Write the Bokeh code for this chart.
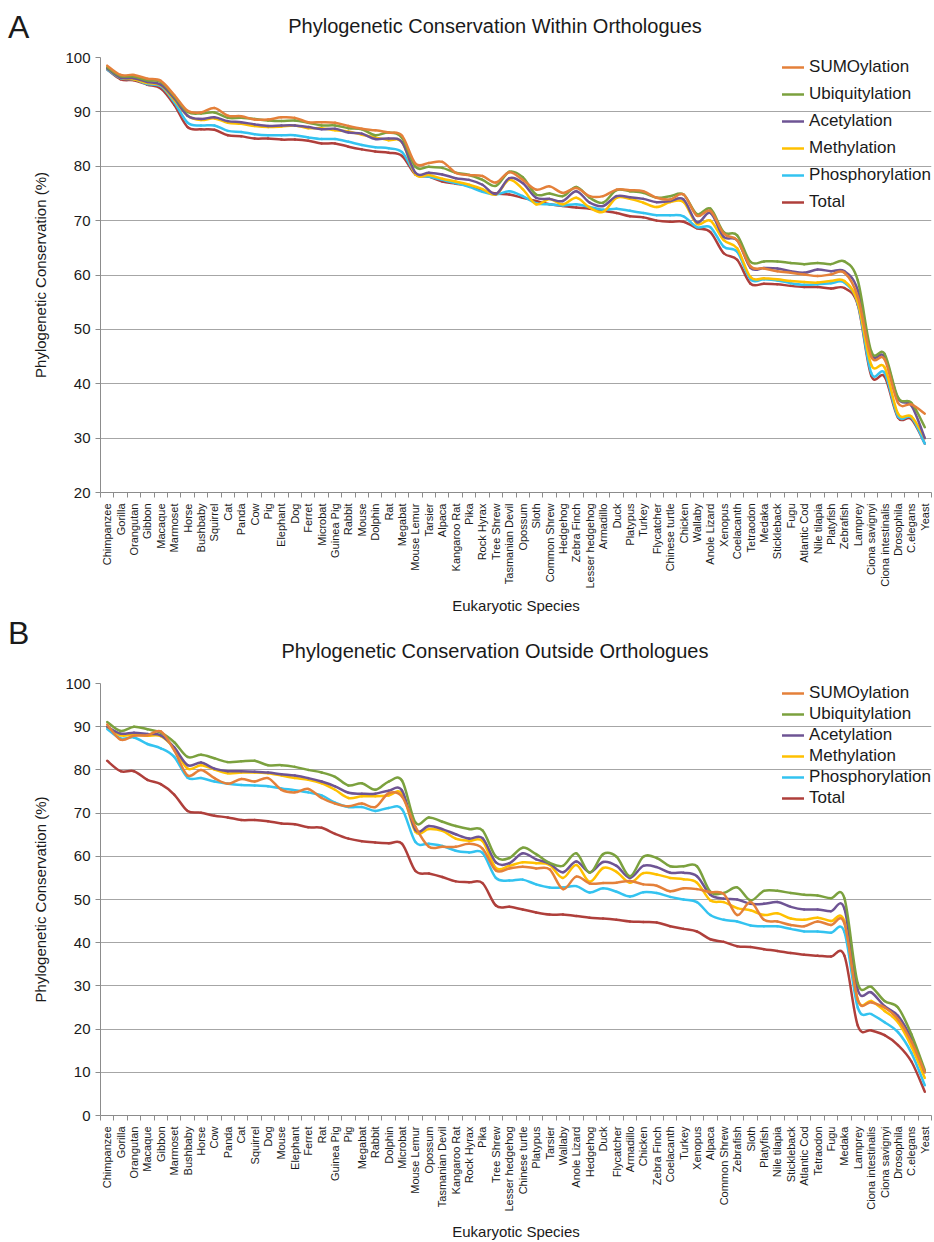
import math
import numpy as np
from bokeh.plotting import figure
from bokeh.models import Range1d, FixedTicker, Legend, LegendItem, ColumnDataSource, Div
from bokeh.layouts import column
from bokeh.embed import file_html
from bokeh.resources import INLINE

FONT = "Liberation Sans"

series_names = ["SUMOylation", "Ubiquitylation", "Acetylation", "Methylation", "Phosphorylation", "Total"]
series_colors = ["#E4803A", "#7BA13E", "#6E5494", "#FFC000", "#33C3F0", "#AF3F3B"]

# ---------------- Panel A: within orthologues ----------------
species_a = ["Chimpanzee", "Gorilla", "Orangutan", "Gibbon", "Macaque", "Marmoset", "Horse", "Bushbaby",
             "Squirrel", "Cat", "Panda", "Cow", "Pig", "Elephant", "Dog", "Ferret", "Microbat", "Guinea Pig",
             "Rabbit", "Mouse", "Dolphin", "Rat", "Megabat", "Mouse Lemur", "Tarsier", "Alpaca", "Kangaroo Rat",
             "Pika", "Rock Hyrax", "Tree Shrew", "Tasmanian Devil", "Opossum", "Sloth", "Common Shrew",
             "Hedgehog", "Zebra Finch", "Lesser hedgehog", "Armadillo", "Duck", "Platypus", "Turkey",
             "Flycatcher", "Chinese turtle", "Chicken", "Wallaby", "Anole Lizard", "Xenopus", "Coelacanth",
             "Tetraodon", "Medaka", "Stickleback", "Fugu", "Atlantic Cod", "Nile tilapia", "Platyfish",
             "Zebrafish", "Lamprey", "Ciona savignyi", "Ciona intestinalis", "Drosophila", "C.elegans", "Yeast"]

sumo_a = [98.5, 96.8, 96.8, 96.1, 95.7, 93.1, 90.2, 89.9, 90.7, 89.3, 89.2, 88.6, 88.6, 89.0, 88.9, 88.1,
          88.1, 88.0, 87.4, 86.9, 86.6, 86.2, 85.6, 80.5, 80.6, 80.8, 78.8, 78.4, 78.2, 77.0, 78.9, 77.5,
          75.7, 76.3, 75.1, 76.0, 74.5, 74.5, 75.7, 75.6, 75.4, 74.2, 73.9, 74.8, 70.9, 71.8, 67.6, 66.4,
          61.6, 61.2, 60.7, 60.4, 60.1, 59.8, 60.1, 60.4, 56.0, 45.0, 44.5, 36.5, 36.2, 34.5]
ubiq_a = [98.2, 96.6, 96.5, 95.8, 95.5, 92.9, 90.0, 89.7, 89.9, 88.9, 88.9, 88.7, 88.4, 88.3, 88.4, 88.0,
          87.5, 87.5, 87.0, 86.8, 85.7, 86.2, 85.2, 79.9, 79.9, 79.7, 78.8, 78.4, 77.5, 76.4, 79.0, 78.0,
          74.8, 75.0, 74.5, 76.2, 74.2, 73.3, 75.6, 75.4, 75.1, 74.2, 74.5, 74.8, 71.2, 72.2, 67.9, 67.3,
          62.4, 62.5, 62.5, 62.2, 62.0, 62.2, 62.0, 62.5, 59.0, 46.0, 45.5, 37.5, 36.5, 32.0]
acet_a = [98.0, 96.3, 96.2, 95.5, 95.0, 92.5, 89.3, 88.7, 89.0, 88.3, 88.1, 87.7, 87.4, 87.5, 87.5, 87.2,
          86.8, 86.9, 86.2, 86.0, 85.0, 85.1, 84.4, 78.8, 78.8, 78.5, 77.8, 77.5, 76.6, 74.9, 77.8, 76.9,
          74.2, 74.0, 73.6, 75.4, 73.3, 72.7, 74.5, 74.3, 74.0, 73.4, 73.6, 73.9, 69.7, 71.4, 67.0, 66.4,
          61.3, 61.3, 61.2, 60.7, 60.4, 61.0, 60.7, 60.7, 57.2, 45.5, 45.0, 37.3, 36.0, 30.0]
meth_a = [98.0, 96.3, 96.0, 95.3, 94.9, 92.2, 89.3, 88.5, 88.8, 88.0, 87.8, 87.4, 87.2, 87.3, 87.5, 87.0,
          87.0, 86.6, 86.4, 85.8, 85.3, 84.8, 84.4, 78.5, 78.4, 77.7, 77.2, 76.6, 75.8, 74.8, 77.5, 75.8,
          73.0, 74.0, 73.0, 74.2, 72.4, 71.6, 74.2, 74.0, 73.3, 72.5, 73.4, 73.4, 69.4, 70.0, 66.4, 64.9,
          59.6, 59.4, 59.2, 58.9, 58.7, 58.6, 58.9, 58.9, 55.0, 43.5, 43.0, 34.5, 34.0, 30.0]
phos_a = [97.8, 96.2, 96.0, 95.1, 94.7, 91.8, 88.0, 87.5, 87.5, 86.5, 86.3, 85.9, 85.7, 85.7, 85.7, 85.3,
          85.0, 85.0, 84.5, 83.9, 83.5, 83.3, 82.6, 78.7, 78.1, 77.5, 76.9, 76.2, 75.3, 74.8, 75.4, 74.5,
          73.2, 73.0, 72.8, 73.0, 72.5, 72.0, 72.2, 71.8, 71.4, 71.0, 71.0, 70.8, 68.8, 68.8, 65.2, 64.3,
          59.2, 59.2, 59.0, 58.5, 58.2, 58.3, 58.5, 58.6, 54.8, 42.0, 42.0, 34.0, 33.8, 29.0]
total_a = [97.8, 96.0, 95.8, 95.0, 94.3, 91.3, 87.2, 86.8, 86.7, 85.7, 85.5, 85.1, 85.1, 84.9, 84.9, 84.7,
           84.2, 84.2, 83.6, 83.1, 82.7, 82.5, 81.9, 78.5, 78.1, 77.2, 76.8, 76.4, 75.5, 75.0, 74.8, 74.2,
           73.6, 73.0, 72.7, 72.4, 72.2, 71.8, 71.4, 70.8, 70.6, 70.0, 69.8, 69.8, 68.6, 67.9, 64.0, 62.8,
           58.4, 58.4, 58.3, 58.0, 57.8, 57.8, 57.5, 57.6, 54.5, 41.5, 41.3, 33.8, 33.5, 29.0]

yticks_a = [20, 30, 40, 50, 60, 70, 80, 90, 100]

# ---------------- Panel B: outside orthologues ----------------
species_b = ["Chimpanzee", "Gorilla", "Orangutan", "Macaque", "Gibbon", "Marmoset", "Bushbaby", "Horse",
             "Cow", "Panda", "Cat", "Squirrel", "Dog", "Mouse", "Elephant", "Ferret", "Rat", "Guinea Pig",
             "Pig", "Megabat", "Rabbit", "Dolphin", "Microbat", "Mouse Lemur", "Opossum", "Tasmanian Devil",
             "Kangaroo Rat", "Rock Hyrax", "Pika", "Tree Shrew", "Lesser hedgehog", "Chinese turtle",
             "Platypus", "Tarsier", "Wallaby", "Anole Lizard", "Hedgehog", "Duck", "Flycatcher", "Armadillo",
             "Chicken", "Zebra Finch", "Coelacanth", "Turkey", "Xenopus", "Alpaca", "Common Shrew",
             "Zebrafish", "Sloth", "Platyfish", "Nile tilapia", "Stickleback", "Atlantic Cod", "Tetraodon",
             "Fugu", "Medaka", "Lamprey", "Ciona intestinalis", "Ciona savignyi", "Drosophila", "C.elegans",
             "Yeast"]

sumo_b = [90.5, 87.0, 87.9, 88.0, 88.9, 84.5, 78.7, 80.0, 78.1, 76.8, 77.9, 77.3, 78.1, 75.4, 74.8, 75.6,
          73.5, 72.2, 71.6, 72.2, 71.4, 74.6, 73.8, 66.8, 62.2, 62.2, 62.2, 62.9, 61.8, 56.7, 57.2, 57.6,
          57.2, 57.0, 52.4, 55.3, 53.7, 53.8, 53.9, 54.3, 53.5, 53.2, 51.9, 52.6, 52.4, 51.7, 51.3, 46.4,
          49.4, 45.3, 44.9, 44.1, 43.8, 44.9, 44.1, 44.5, 26.8, 26.2, 25.0, 22.3, 17.1, 10.0]
ubiq_b = [91.1, 89.0, 90.0, 89.4, 88.6, 86.4, 83.0, 83.5, 82.7, 81.8, 82.0, 82.1, 81.1, 81.1, 80.7, 80.0,
          79.4, 78.4, 76.4, 76.9, 75.4, 77.3, 77.5, 67.8, 69.0, 68.0, 67.0, 66.3, 66.0, 59.9, 59.6, 62.0,
          60.5, 58.5, 57.8, 60.7, 56.2, 60.5, 59.9, 55.4, 59.9, 59.6, 57.7, 57.7, 57.7, 51.8, 51.5, 52.8,
          49.8, 52.0, 52.0, 51.5, 51.1, 50.9, 50.3, 50.3, 30.6, 29.8, 26.5, 25.0, 18.8, 10.5]
acet_b = [90.0, 88.4, 88.6, 88.3, 88.0, 85.2, 81.1, 81.7, 80.3, 79.7, 79.7, 79.6, 79.4, 79.0, 78.7, 78.1,
          77.3, 76.2, 74.7, 74.5, 74.5, 75.2, 75.2, 66.1, 67.0, 66.3, 65.1, 64.1, 64.2, 58.6, 58.4, 60.7,
          59.3, 58.3, 56.3, 58.8, 56.3, 58.7, 57.8, 55.0, 57.8, 57.5, 56.2, 56.2, 55.4, 51.1, 50.2, 50.0,
          49.0, 49.0, 49.4, 48.3, 47.7, 47.7, 47.3, 47.9, 29.1, 28.5, 25.3, 23.1, 17.8, 10.0]
meth_b = [90.0, 88.0, 88.2, 87.9, 87.8, 85.0, 80.3, 81.1, 80.1, 79.2, 79.4, 79.4, 79.2, 78.7, 78.1, 77.7,
          76.9, 75.4, 73.5, 73.9, 73.9, 74.1, 74.5, 65.7, 66.3, 65.9, 64.1, 63.6, 63.5, 57.3, 57.8, 58.6,
          58.4, 58.0, 55.0, 58.0, 54.1, 57.3, 56.4, 53.9, 56.1, 55.8, 55.0, 54.7, 53.9, 49.8, 49.4, 48.0,
          47.5, 46.4, 46.8, 45.6, 45.3, 45.8, 45.0, 45.0, 26.8, 26.5, 24.2, 21.6, 16.0, 8.7]
phos_b = [89.5, 87.3, 87.5, 86.0, 85.0, 83.0, 78.2, 78.1, 77.3, 76.8, 76.5, 76.4, 76.2, 75.7, 75.3, 74.8,
          74.1, 72.4, 71.4, 71.4, 70.5, 71.2, 70.9, 63.3, 62.9, 62.4, 61.3, 60.9, 60.8, 55.0, 54.4, 54.6,
          53.5, 52.8, 52.8, 53.1, 51.6, 52.6, 51.8, 50.7, 51.7, 51.5, 50.6, 50.0, 49.4, 46.4, 45.3, 44.9,
          44.0, 43.8, 43.8, 43.2, 42.6, 42.6, 42.3, 42.5, 25.0, 23.5, 21.6, 19.3, 14.5, 7.0]
total_b = [82.1, 79.7, 79.7, 77.7, 76.7, 74.3, 70.5, 70.1, 69.4, 69.0, 68.4, 68.4, 68.1, 67.6, 67.4, 66.7,
           66.6, 65.2, 64.1, 63.5, 63.2, 63.0, 62.9, 56.6, 56.0, 55.2, 54.2, 54.0, 53.8, 48.6, 48.3, 47.7,
           47.0, 46.5, 46.5, 46.2, 45.8, 45.6, 45.3, 44.9, 44.8, 44.7, 43.8, 43.2, 42.6, 40.8, 40.2, 39.2,
           39.0, 38.5, 38.1, 37.6, 37.2, 37.0, 36.8, 37.0, 20.8, 19.7, 18.6, 16.3, 12.5, 5.5]

yticks_b = [0, 10, 20, 30, 40, 50, 60, 70, 80, 90, 100]


def smooth_segments(ys):
    """Cubic Bezier segments through the data points (spreadsheet-style smoothed line)."""
    y = np.asarray(ys, dtype=float)
    x = np.arange(len(y), dtype=float)
    xp = np.r_[x[0], x, x[-1]]
    yp = np.r_[y[0], y, y[-1]]
    i = np.arange(len(y) - 1)
    p0x, p1x, p2x, p3x = xp[i], xp[i + 1], xp[i + 2], xp[i + 3]
    p0y, p1y, p2y, p3y = yp[i], yp[i + 1], yp[i + 2], yp[i + 3]
    return dict(x0=p1x, y0=p1y, x1=p2x, y1=p2y,
                cx0=p1x + (p2x - p0x) / 6.0, cy0=p1y + (p2y - p0y) / 6.0,
                cx1=p2x - (p3x - p1x) / 6.0, cy1=p2y - (p3y - p1y) / 6.0)


def make_header(height, title, letter, title_top, letter_top):
    """Strip above each panel with the panel letter and the chart title."""
    html = (
        f'<div style="position:relative;width:934px;height:{height}px;font-family:\'{FONT}\';'
        f'color:#1a1a1a;background:white;overflow:visible;">'
        f'<span style="position:absolute;left:8px;top:{letter_top}px;font-size:32px;line-height:32px;'
        f'white-space:nowrap;">{letter}</span>'
        f'<span style="position:absolute;left:0px;width:990px;top:{title_top}px;font-size:20px;'
        f'line-height:20px;text-align:center;white-space:nowrap;">{title}</span>'
        f'</div>'
    )
    return Div(text=html, width=934, height=height, margin=0,
               styles={"padding": "0px", "margin": "0px", "overflow": "visible"})


def make_panel(species, data, yticks, height, top, frame_h, legend_padding, legend_spacing, xlabel_standoff):
    n = len(species)
    bottom = height - top - frame_h
    p = figure(width=934, height=height, x_range=Range1d(-0.5, n - 0.5),
               y_range=Range1d(yticks[0], yticks[-1]),
               output_backend="svg", toolbar_location=None,
               min_border_left=100, min_border_right=3, min_border_top=top, min_border_bottom=bottom)
    p.outline_line_color = None
    p.background_fill_color = "white"
    p.border_fill_color = "white"

    p.xgrid.grid_line_color = None
    p.ygrid.grid_line_color = "#A6A6A6"
    p.ygrid.grid_line_width = 1

    p.yaxis.ticker = FixedTicker(ticks=yticks)
    p.yaxis.axis_line_color = "#8C8C8C"
    p.yaxis.major_tick_line_color = "#8C8C8C"
    p.yaxis.major_tick_in = 0
    p.yaxis.major_tick_out = 5
    p.yaxis.minor_tick_line_color = None
    p.yaxis.major_label_text_font = FONT
    p.yaxis.major_label_text_font_size = "15px"
    p.yaxis.major_label_text_color = "#1a1a1a"
    p.yaxis.major_label_standoff = 5
    p.yaxis.axis_label = "Phylogenetic Conservation (%)"
    p.yaxis.axis_label_text_font = FONT
    p.yaxis.axis_label_text_font_size = "15px"
    p.yaxis.axis_label_text_font_style = "normal"
    p.yaxis.axis_label_text_color = "#1a1a1a"
    p.yaxis.axis_label_standoff = 13

    centres = list(range(n))
    bounds = [i - 0.5 for i in range(n + 1)]
    p.xaxis.ticker = FixedTicker(ticks=centres, minor_ticks=bounds)
    p.xaxis.major_label_overrides = {i: s for i, s in enumerate(species)}
    p.xaxis.major_label_orientation = math.pi / 2
    p.xaxis.major_label_text_font = FONT
    p.xaxis.major_label_text_font_size = "11px"
    p.xaxis.major_label_text_color = "#1a1a1a"
    p.xaxis.major_label_standoff = 6
    p.xaxis.major_tick_line_color = None
    p.xaxis.major_tick_in = 0
    p.xaxis.major_tick_out = 0
    p.xaxis.minor_tick_line_color = "#8C8C8C"
    p.xaxis.minor_tick_in = 0
    p.xaxis.minor_tick_out = 5
    p.xaxis.axis_line_color = "#8C8C8C"
    p.xaxis.axis_label = "Eukaryotic Species"
    p.xaxis.axis_label_text_font = FONT
    p.xaxis.axis_label_text_font_size = "15px"
    p.xaxis.axis_label_text_font_style = "normal"
    p.xaxis.axis_label_text_color = "#1a1a1a"
    p.xaxis.axis_label_standoff = xlabel_standoff

    renderers = {}
    for name, color, ys in reversed(list(zip(series_names, series_colors, data))):
        src = ColumnDataSource(smooth_segments(ys))
        r = p.bezier(x0="x0", y0="y0", x1="x1", y1="y1", cx0="cx0", cy0="cy0", cx1="cx1", cy1="cy1",
                     source=src, line_color=color, line_width=2.5, line_cap="round")
        renderers[name] = r

    legend = Legend(items=[LegendItem(label=nm, renderers=[renderers[nm]]) for nm in series_names],
                    location="top_right")
    legend.label_text_font = FONT
    legend.label_text_font_size = "17px"
    legend.label_text_color = "#1a1a1a"
    legend.glyph_width = 22
    legend.glyph_height = 20
    legend.label_height = 20
    legend.label_standoff = 5
    legend.spacing = legend_spacing
    legend.padding = legend_padding
    legend.margin = 0
    legend.border_line_color = None
    legend.background_fill_alpha = 0
    p.add_layout(legend, "center")
    return p


ha = make_header(50, "Phylogenetic Conservation Within Orthologues", "A", title_top=16, letter_top=11)
pa = make_panel(species_a, [sumo_a, ubiq_a, acet_a, meth_a, phos_a, total_a], yticks_a,
                height=566, top=7, frame_h=445,
                legend_padding=6, legend_spacing=7, xlabel_standoff=5)
hb = make_header(60, "Phylogenetic Conservation Outside Orthologues", "B", title_top=25, letter_top=1)
pb = make_panel(species_b, [sumo_b, ubiq_b, acet_b, meth_b, phos_b, total_b], yticks_b,
                height=566, top=7, frame_h=443,
                legend_padding=5, legend_spacing=1, xlabel_standoff=8)

layout = column(ha, pa, hb, pb, spacing=0)
open("out.html", "w").write(file_html(layout, INLINE))
